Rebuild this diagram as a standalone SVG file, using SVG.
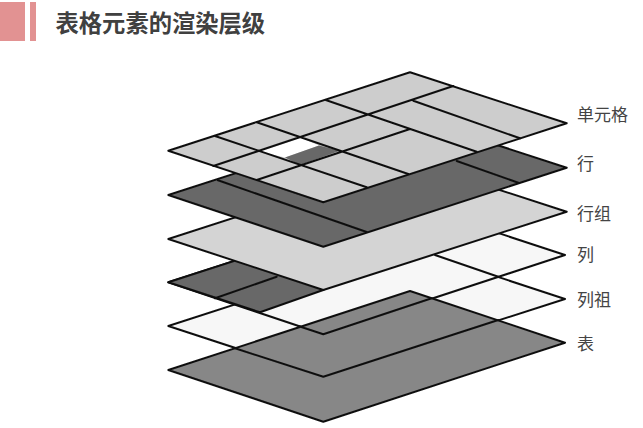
<svg xmlns="http://www.w3.org/2000/svg" width="643" height="428" viewBox="0 0 643 428">
<style>
.s{stroke:#111;stroke-width:2;stroke-linejoin:round;stroke-linecap:round}
.l{fill:none}
.light{fill:#cdcdcd}
.pale{fill:#d4d4d4}
.dark{fill:#686868}
.mid{fill:#878787}
.white{fill:#f7f7f7}
.t{font-family:"Noto Sans CJK SC","Liberation Sans",sans-serif;font-size:17px;fill:#444}
</style>
<defs><filter id="soft" x="-5%" y="-5%" width="110%" height="110%"><feGaussianBlur stdDeviation="0.35"/></filter></defs>
<rect width="643" height="428" fill="#fff"/>
<g id="header">
<rect x="0" y="2" width="25" height="39" fill="#e29292"/>
<rect x="30" y="2" width="6" height="39" fill="#e29292"/>
<text x="55.500" y="32" font-family="'Noto Sans CJK SC','Liberation Sans',sans-serif" font-size="23.300" font-weight="700" fill="#404040">表格元素的渲染层级</text>
</g>
<g filter="url(#soft)">
<g id="layer-column-group">
<polygon class="s white" points="168.300,326 410,248 565,299 323.300,376.700"/>
</g>
<g id="layer-column-base">
<polygon class="s white" points="168.300,282.300 410,204 565,255 323.300,334.300"/>
</g>
<g id="layer-table">
<polygon class="s mid" points="168.300,370 410,291 565,342.700 323.300,421.700"/>
<path class="s l" d="M235,348.300L323.300,376.700L498.300,320"/>
<path class="s l" d="M298.300,326L323.300,334.300L431.700,298.300"/>
</g>
<g id="layer-column">
<polygon class="s dark" points="168.300,282.300 410,204 323.300,290 260,312.300"/>
<path class="s l" d="M215,298.300L276.700,276.700M435,255L498.300,276.700"/>
</g>
<g id="layer-row-group">
<polygon class="s pale" points="168.300,239 410,161 566.700,211.700 323.300,290"/>
</g>
<g id="layer-row">
<polygon class="s dark" points="168.300,195 410,116.700 566.700,167.700 323.300,246.700"/>
<path class="s l" d="M218,180.300L366.700,232M456.700,161L518.300,182.700"/>
</g>
<g id="layer-cell">
<polygon class="s light" points="168.300,150.700 410,72.300 566.700,123.300 323.300,202.300"/>
<polygon fill="#fff" points="256.700,150.700 300,137.300 319,145.500 285,157.500"/>
<polygon class="dark" points="285,157.500 319,145.500 340,150.700 300,165"/>
<path class="s l" d="M215,136L366.700,187.300M256.700,122.300L408.300,174M325.700,100L476.700,151.700M413.300,100.700L520,138.300M213.300,166L453.300,86M256.700,180L410,129"/>
</g>
</g>
<g id="labels">
<text class="t" x="577" y="121">单元格</text>
<text class="t" x="577" y="170">行</text>
<text class="t" x="577" y="220">行组</text>
<text class="t" x="577" y="261">列</text>
<text class="t" x="577" y="306">列祖</text>
<text class="t" x="577" y="350">表</text>
</g>
</svg>
